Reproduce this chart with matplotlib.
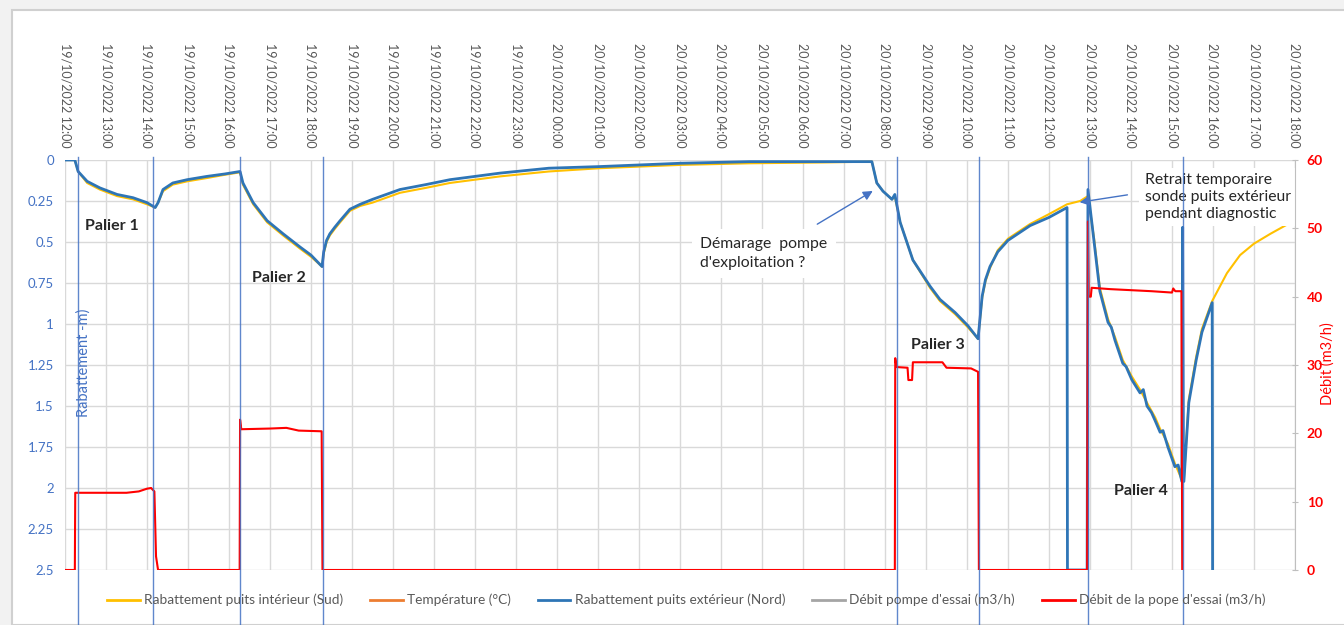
import matplotlib
matplotlib.use("Agg")
import matplotlib.pyplot as plt
from matplotlib.lines import Line2D
from matplotlib.patches import Rectangle
import matplotlib.transforms as mtransforms
import pandas as pd

plt.rcParams['font.family'] = ['Lato', 'DejaVu Sans']

W, H = 1344, 625

# x = hours since 19/10/2022 12:00
tick_hours = list(range(0, 31))
tick_labels = [d.strftime('%d/%m/%Y %H:%M')
               for d in pd.date_range('2022-10-19 12:00', '2022-10-20 18:00', freq='h')]

# Rabattement puits extérieur (Nord) - m
nord_h = [0, 0.24, 0.32, 0.54, 0.85, 1.27, 1.66, 2.0, 2.20, 2.27, 2.39, 2.63, 2.98, 3.46, 3.9, 4.27,
          4.34, 4.59, 4.93, 5.32, 5.73, 6.0, 6.27, 6.31, 6.38, 6.46, 6.58, 6.71, 6.95, 7.2, 7.5, 8.17,
          8.8, 9.39, 10.0, 10.61, 11.8, 13.05, 15.0, 16.7, 18.5, 19.68, 19.80, 19.95, 20.17, 20.24,
          20.37, 20.68, 21.10, 21.34, 21.71, 22.02, 22.27, 22.37, 22.45, 22.56, 22.75, 23.0, 23.54,
          24.0, 24.44, 24.45, 24.93,
          24.95, 25.10, 25.24, 25.44, 25.52, 25.61, 25.80, 25.88, 26.02, 26.22, 26.30, 26.39,
          26.50, 26.59, 26.71, 26.78, 26.90, 27.07, 27.15, 27.24, 27.26, 27.28, 27.29, 27.41,
          27.59, 27.73, 27.98, 27.99]
nord_v = [0, 0, 0.07, 0.13, 0.17, 0.21, 0.23, 0.26, 0.29, 0.26, 0.18, 0.14, 0.12, 0.10, 0.085, 0.07,
          0.14, 0.26, 0.37, 0.45, 0.53, 0.58, 0.65, 0.56, 0.49, 0.45, 0.41, 0.37, 0.30, 0.27, 0.24, 0.18,
          0.15, 0.12, 0.10, 0.08, 0.05, 0.04, 0.02, 0.01, 0.01, 0.01, 0.14, 0.19, 0.24, 0.21,
          0.38, 0.61, 0.77, 0.85, 0.93, 1.01, 1.09, 0.83, 0.73, 0.65, 0.56, 0.49, 0.40,
          0.35, 0.29, 2.5, 2.5,
          0.18, 0.50, 0.80, 0.99, 1.02, 1.10, 1.24, 1.26, 1.34, 1.42, 1.40, 1.50,
          1.54, 1.59, 1.66, 1.65, 1.75, 1.87, 1.86, 1.96, 0.41, 1.96, 1.96, 1.48,
          1.22, 1.05, 0.87, 2.5]

# Rabattement puits intérieur (Sud) - m
sud_h = [0, 0.24, 0.32, 0.54, 0.85, 1.27, 1.66, 2.0, 2.20, 2.27, 2.39, 2.63, 2.98, 3.46, 3.9, 4.27,
         4.34, 4.59, 4.93, 5.32, 5.73, 6.0, 6.27, 6.31, 6.38, 6.46, 6.58, 6.71, 6.95, 7.2, 7.5, 8.17,
         8.8, 9.39, 10.0, 10.61, 11.8, 13.05, 15.0, 16.7, 18.5, 19.68, 19.80, 19.95, 20.17, 20.24,
         20.37, 20.68, 21.10, 21.34, 21.71, 22.02, 22.27, 22.37, 22.45, 22.56, 22.75, 23.0, 23.54,
         24.0, 24.44, 24.76, 24.95,
         25.10, 25.24, 25.44, 25.61, 25.80, 26.02, 26.22, 26.39, 26.59, 26.71, 26.90, 27.07,
         27.24, 27.29, 27.41, 27.59, 27.73, 27.98, 28.34, 28.66, 29.0, 29.4, 29.76, 30.0]
sud_v = [0, 0, 0.07, 0.14, 0.18, 0.22, 0.24, 0.27, 0.29, 0.26, 0.19, 0.15, 0.13, 0.11, 0.09, 0.075,
         0.15, 0.27, 0.38, 0.46, 0.54, 0.59, 0.65, 0.57, 0.50, 0.46, 0.42, 0.38, 0.31, 0.28, 0.26, 0.20,
         0.17, 0.14, 0.12, 0.10, 0.07, 0.05, 0.03, 0.02, 0.015, 0.01, 0.14, 0.19, 0.24, 0.22,
         0.38, 0.61, 0.78, 0.86, 0.94, 1.02, 1.09, 0.84, 0.74, 0.66, 0.55, 0.48, 0.39,
         0.33, 0.27, 0.25, 0.22,
         0.48, 0.78, 0.97, 1.08, 1.22, 1.32, 1.40, 1.48, 1.57, 1.64, 1.73, 1.85,
         1.95, 1.95, 1.46, 1.20, 1.03, 0.86, 0.69, 0.58, 0.51, 0.45, 0.40, 0.37]

# Débit de la pope d'essai - m3/h
debit_h = [0, 0.24, 0.25, 1.5, 1.8, 2.0, 2.1, 2.18, 2.22, 2.27, 4.26, 4.27, 4.30, 5.0, 5.4, 5.7,
           6.26, 6.28, 20.24, 20.25, 20.28, 20.55, 20.57, 20.66, 20.68, 21.4, 21.5, 22.1, 22.27,
           22.29, 24.93, 24.95, 24.97, 25.02, 25.04, 25.5, 26.5, 27.0, 27.03, 27.08, 27.23, 27.25]
debit_v = [0, 0, 11.3, 11.3, 11.5, 11.9, 12.0, 11.5, 2.0, 0, 0, 22.0, 20.6, 20.7, 20.8, 20.4,
           20.3, 0, 0, 31.0, 29.7, 29.6, 27.8, 27.8, 30.4, 30.4, 29.6, 29.5, 29.0,
           0, 0, 51.0, 40.0, 40.0, 41.3, 41.1, 40.8, 40.6, 41.2, 40.8, 40.8, 0]

# Repères verticaux (début/fin des paliers)
markers_h = [0.32, 2.15, 4.27, 6.29, 20.29, 22.29, 24.95, 27.27]

GRID = '#D9D9D9'
TXT = '#595959'
BLUE_AX = '#4472C4'

fig = plt.figure(figsize=(W / 100, H / 100), dpi=100, facecolor='#F2F2F2')
fig.patches.append(Rectangle((12 / W, 0), 1, 1 - 10 / H, transform=fig.transFigure,
                             facecolor='white', edgecolor='#D0D0D0', lw=1.5, zorder=-10))

ax = fig.add_axes([65 / W, 1 - 570 / H, (1295 - 65) / W, 410 / H])
ax.patch.set_alpha(0)
ax.set_xlim(0, 30)
ax.set_ylim(2.5, 0)
ax.set_xticks(tick_hours)
ax.set_xticklabels(tick_labels, rotation=-90, fontsize=9, color=TXT)
ax.xaxis.tick_top()
ax.tick_params(axis='x', length=0, pad=9)
ax.set_yticks([i * 0.25 for i in range(11)])
ax.set_yticklabels(['0', '0.25', '0.5', '0.75', '1', '1.25', '1.5', '1.75', '2', '2.25', '2.5'],
                   fontsize=9.5, color=BLUE_AX)
ax.tick_params(axis='y', length=0, pad=8)
ax.grid(True, color=GRID, lw=1)
for s in ax.spines.values():
    s.set_visible(False)

ax.plot(sud_h, sud_v, color='#FFC000', lw=1.5, zorder=3)
ax.plot(nord_h, nord_v, color='#2E75B6', lw=2.0, zorder=4)

ax2 = ax.twinx()
ax2.set_ylim(0, 60)
ax2.set_yticks(range(0, 61, 10))
for lab in ax2.set_yticklabels([str(v) for v in range(0, 61, 10)]):
    lab.set_color('#FF0000')
    lab.set_fontweight('bold')
    lab.set_fontsize(10)
ax2.tick_params(axis='y', length=5, color='#BFBFBF', direction='inout', pad=6)
for k, s in ax2.spines.items():
    s.set_visible(k == 'right')
ax2.spines['right'].set_color('#BFBFBF')
ax2.plot(debit_h, debit_v, color='#FF0000', lw=1.5, zorder=2)

# vertical marker lines over the whole chart
trans = mtransforms.blended_transform_factory(ax.transData, fig.transFigure)
for mh in markers_h:
    fig.add_artist(Line2D([mh, mh], [0, 1 - 157 / H], transform=trans,
                          color=BLUE_AX, lw=1.0, alpha=0.85, zorder=5))

# axis titles
fig.text(84 / W, 1 - 363 / H, 'Rabattement -m)', rotation=90, color=BLUE_AX,
         fontsize=10.5, ha='center', va='center')
fig.text(1328 / W, 1 - 364 / H, 'Débit (m3/h)', rotation=90, color='#FF0000',
         fontsize=10.5, ha='center', va='center')

# paliers
for txt, xh, yv in [('Palier 1', 0.49, 0.40), ('Palier 2', 4.56, 0.72),
                    ('Palier 3', 20.63, 1.13), ('Palier 4', 25.59, 2.02)]:
    ax.text(xh, yv, txt, fontsize=11.5, fontweight='bold', color='#262626',
            ha='left', va='center', zorder=6)

# annotations
ax.text(15.49, 0.57, "Démarage  pompe\nd'exploitation ?", fontsize=11.3, color='#262626',
        ha='left', va='center', linespacing=1.45, zorder=6,
        bbox=dict(facecolor='white', edgecolor='none', pad=6))
ax.annotate('', xy=(19.76, 0.18), xytext=(18.29, 0.40),
            arrowprops=dict(arrowstyle='-|>', color=BLUE_AX, lw=1.0, mutation_scale=14), zorder=6)

ax.text(26.34, 0.226, "Retrait temporaire\nsonde puits extérieur\npendant diagnostic",
        fontsize=11.3, color='#262626', ha='left', va='center', linespacing=1.25, zorder=6,
        bbox=dict(facecolor='white', edgecolor='none', pad=4))
ax.annotate('', xy=(24.68, 0.26), xytext=(25.98, 0.21),
            arrowprops=dict(arrowstyle='-|>', color=BLUE_AX, lw=1.0, mutation_scale=14), zorder=6)

# legend
handles = [Line2D([], [], color='#FFC000', lw=2),
           Line2D([], [], color='#ED7D31', lw=2),
           Line2D([], [], color='#2E75B6', lw=2),
           Line2D([], [], color='#A5A5A5', lw=2),
           Line2D([], [], color='#FF0000', lw=2)]
labels = ['Rabattement puits intérieur (Sud)', 'Température (°C)',
          'Rabattement puits extérieur (Nord)', "Débit pompe d'essai (m3/h)",
          "Débit de la pope d'essai (m3/h)"]
fig.legend(handles, labels, loc='center', bbox_to_anchor=(686 / W, 1 - 600 / H), ncol=5,
           frameon=False, fontsize=9.8, labelcolor=TXT, handlelength=2.4, handletextpad=0.3,
           columnspacing=2.0)

fig.savefig('out.png', dpi=100, facecolor=fig.get_facecolor())
